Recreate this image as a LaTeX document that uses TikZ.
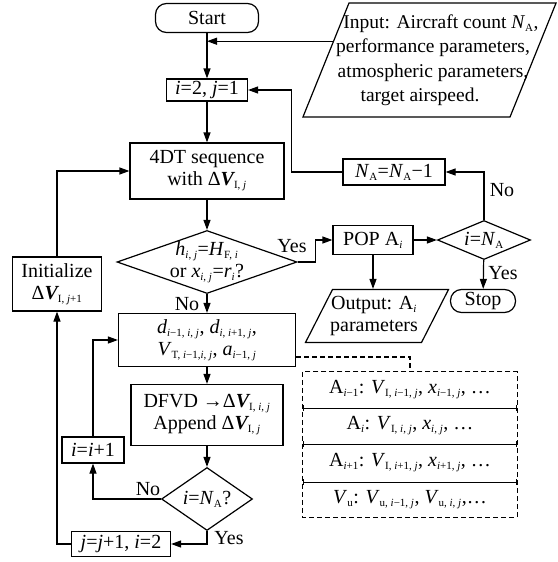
\documentclass[tikz,border=0pt]{standalone}
\usepackage{fontspec}
\setmainfont{Liberation Serif}
\usetikzlibrary{arrows.meta,shapes.geometric}
\newcommand{\sbs}[1]{\ensuremath{_{\mbox{\fontsize{11}{11}\selectfont #1}}}}
\newcommand{\ti}{\textit{i}}
\newcommand{\tj}{\textit{j}}
\newcommand{\bV}{\mbox{\bfseries\itshape V}}
\begin{document}
\begin{tikzpicture}
[
    x=1pt, y=-1pt,
    font=\fontsize{20}{22}\selectfont,
    every node/.style={inner sep=0pt},
    box/.style={draw, line width=1.2pt, align=center},
    term/.style={box, rounded corners=11pt},
    dec/.style={draw, line width=1.2pt, diamond},
    io/.style={draw, line width=1.2pt, trapezium},
    txt/.style={align=center},
    arr/.style={line width=1.2pt, -{Triangle[length=10pt,width=7pt]}},
    ln/.style={line width=1.2pt},
    row/.style={minimum width=214pt, align=center},
    sep/.style={line width=1.2pt, {Bar[width=6pt]}-{Bar[width=6pt]}},
]
\useasboundingbox (0,0) rectangle (557,562);
\node[term, minimum width=103pt, minimum height=29pt] (start) at (207,18) {Start};
\node[io, trapezium left angle=68, trapezium right angle=112, inner xsep=80.5pt, inner ysep=57pt] (input) at (429.5,60) {};
\node[txt, font=\fontsize{19.5}{24.5}\selectfont] (intext) at (433,60) {\hspace*{16pt}Input: Aircraft count \textit{N}\sbs{A},\\performance parameters,\\atmospheric parameters,\hspace*{10pt}\\target airspeed.\hspace*{26pt}};
\node[box, minimum width=81pt, minimum height=22pt] (init2) at (207,90) {\ti=2, \tj=1};
\node[box, minimum width=154pt, minimum height=56pt] (seq) at (207,171) {4DT sequence\\with Δ\bV\sbs{I, \tj}};
\node[dec, minimum width=180pt, minimum height=63pt] (hdec) at (207,262) {};
\node[txt] (htext) at (207,262) {\textit{h}\sbs{\ti, \tj}=\textit{H}\sbs{F, \ti}\\or \textit{x}\sbs{\ti, \tj}=\textit{r}\sbs{\ti}?};
\node[box, minimum width=80pt, minimum height=29pt] (pop) at (373,240) {POP A\sbs{\ti}};
\node[dec, minimum width=93pt, minimum height=39pt] (last) at (484,240) {};
\node (lasttext) at (484,240) {\ti=\textit{N}\sbs{A}};
\node[box, minimum width=102pt, minimum height=26pt] (dec1) at (394,172) {\textit{N}\sbs{A}=\textit{N}\sbs{A}−1};
\node[term, minimum width=65pt, minimum height=23pt] (stop) at (483,301) {Stop};
\node[io, trapezium left angle=63, trapezium right angle=117, inner xsep=44.5pt, inner ysep=26.5pt] (out) at (377,316) {};
\node[txt] (outtext) at (374,316) {Output: A\sbs{\ti}\\parameters};
\node[box, minimum width=177pt, minimum height=53pt] (dist) at (207,340) {\textit{d}\sbs{\ti−1, \ti, \tj}, \textit{d}\sbs{\ti, \ti+1, \tj},\\\textit{V}\sbs{T, \ti−1,\ti, \tj}, \textit{a}\sbs{\ti−1, \tj}};
\node[box, minimum width=152pt, minimum height=61pt] (dfvd) at (207,415) {DFVD →Δ\bV\sbs{I, \ti, \tj}\\Append Δ\bV\sbs{I, \tj}};
\node[dec, minimum width=91pt, minimum height=63pt] (idec) at (207,499) {};
\node (itext) at (207,499) {\ti=\textit{N}\sbs{A}?};
\node[box, minimum width=62pt, minimum height=26pt] (inc) at (93,450) {\ti=\ti+1};
\node[box, minimum width=99pt, minimum height=25pt] (jinc) at (121,544) {\tj=\tj+1, \ti=2};
\node[box, minimum width=89pt, minimum height=54pt] (reset) at (57,284) {Initialize\\Δ\bV\sbs{I, \tj+1}};
\node[row, minimum height=36pt] (r1) at (410,390) {A\sbs{\ti−1}: \textit{V}\sbs{I, \ti−1, \tj}, \textit{x}\sbs{\ti−1, \tj}, …};
\node[row, minimum height=36pt] (r2) at (410,426) {A\sbs{\ti}: \textit{V}\sbs{I, \ti, \tj}, \textit{x}\sbs{\ti, \tj}, …};
\node[row, minimum height=38pt] (r3) at (410,463) {A\sbs{\ti+1}: \textit{V}\sbs{I, \ti+1, \tj}, \textit{x}\sbs{\ti+1, \tj}, …};
\node[row, minimum height=35pt] (r4) at (410,499.5) {\textit{V}\sbs{u}: \textit{V}\sbs{u, \ti−1, \tj}, \textit{V}\sbs{u, \ti, \tj},…};
\node (yes1) at (292,246) {Yes};
\node (no1) at (187,304) {No};
\node (no2) at (502,190) {No};
\node (yes2) at (503,273) {Yes};
\node (no3) at (148,489) {No};
\node (yes3) at (229,538) {Yes};
\draw[arr] (start) -- (init2);
\draw[arr] (input.169) -- (input.169 -| start);
\draw[arr] (init2) -- (seq);
\draw[arr] (seq) -- (hdec);
\draw[arr] (hdec.east) -- ++(18,0) |- (pop.west);
\draw[arr] (pop) -- (last);
\draw[arr] (last.north) |- (dec1.east);
\draw[arr] (dec1.west) -- ++(-51,0) |- (init2.east);
\draw[arr] (last) -- (stop);
\draw[arr] (pop.south) -- (pop.south |- out.north);
\draw[arr] (hdec) -- (dist);
\draw[arr] (dist) -- (dfvd);
\draw[arr] (dfvd) -- (idec);
\draw[arr] (idec.west) -| (inc.south);
\draw[arr] (inc.north) |- (dist.west);
\draw[arr] (idec.south) |- (jinc.east);
\draw[arr] (jinc.west) -| (reset.south);
\draw[arr] (reset.north) |- (seq.west);
\draw[ln, dash pattern=on 5pt off 3pt] ([yshift=-17pt]dist.east) -| (r1.north);
\draw[ln, dash pattern=on 5pt off 3pt] (r1.north west) rectangle (r4.south east);
\draw[sep] (r1.south west) -- (r1.south east);
\draw[sep] (r2.south west) -- (r2.south east);
\draw[sep] (r3.south west) -- (r3.south east);
\end{tikzpicture}
\end{document}
